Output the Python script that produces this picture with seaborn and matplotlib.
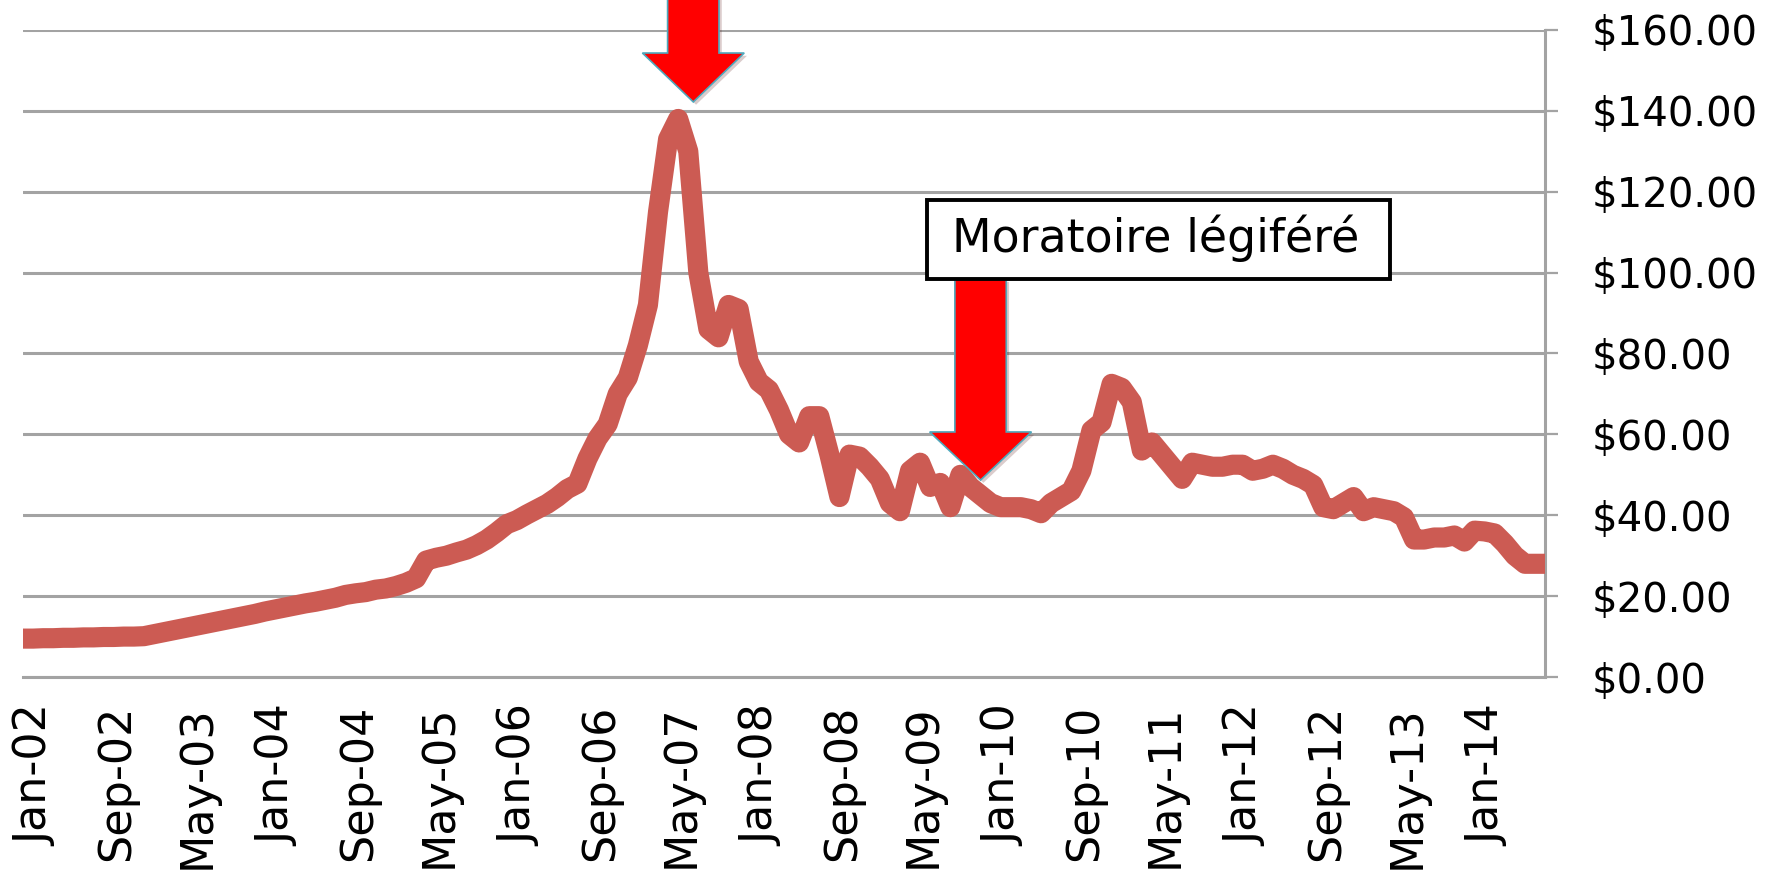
import matplotlib
matplotlib.use("Agg")
import matplotlib.pyplot as plt
import matplotlib.patheffects as pe
import matplotlib.transforms as mtransforms
from matplotlib.patches import Polygon, Rectangle
import seaborn as sns
import pandas as pd

# ---- data -------------------------------------------------------------
prices = [
    9.5, 9.5, 9.6, 9.6, 9.7, 9.7, 9.8, 9.8, 9.9, 9.9, 10.0, 10.0,          # 2002
    10.1, 10.6, 11.1, 11.6, 12.1, 12.6, 13.1, 13.6, 14.1, 14.6, 15.1, 15.6, # 2003
    16.2, 16.7, 17.2, 17.7, 18.2, 18.6, 19.1, 19.6, 20.3, 20.7, 21.0, 21.6, # 2004
    21.9, 22.5, 23.3, 24.4, 28.8, 29.5, 30.0, 30.8, 31.5, 32.6, 34.0, 35.8, # 2005
    37.8, 38.8, 40.2, 41.5, 42.8, 44.5, 46.5, 47.8, 54.0, 59.0, 62.5, 70.0, # 2006
    74.0, 82.0, 92.0, 115.0, 133.0, 138.0, 130.0, 100.0, 86.0, 84.0, 92.0, 91.0, # 2007
    78.0, 73.0, 71.0, 66.0, 60.0, 58.0, 64.5, 64.5, 55.0, 44.5, 55.0, 54.5, # 2008
    52.0, 49.0, 43.0, 41.0, 51.0, 53.0, 47.0, 48.0, 42.0, 50.0, 47.0, 45.0, # 2009
    43.0, 42.0, 42.0, 42.0, 41.5, 40.5, 43.0, 44.5, 46.0, 51.0, 61.0, 63.0, # 2010
    72.5, 71.5, 68.0, 56.0, 58.0, 55.0, 52.0, 49.0, 53.0, 52.5, 52.0, 52.0, # 2011
    52.5, 52.5, 51.0, 51.5, 52.5, 51.5, 50.0, 49.0, 47.5, 42.0, 41.5, 43.0, # 2012
    44.5, 41.0, 42.0, 41.5, 41.0, 39.5, 34.0, 34.0, 34.5, 34.5, 35.0, 33.5, # 2013
    36.2, 36.0, 35.5, 33.0, 30.0, 28.0, 28.0, 28.0,                         # 2014
]
months = list(range(len(prices)))
tick_positions = [0, 8, 16, 24, 32, 40, 48, 56, 64, 72, 80, 88, 96, 104, 112, 120, 128, 136, 144]
tick_labels = ["Jan-02", "Sep-02", "May-03", "Jan-04", "Sep-04", "May-05", "Jan-06",
               "Sep-06", "May-07", "Jan-08", "Sep-08", "May-09", "Jan-10", "Sep-10",
               "May-11", "Jan-12", "Sep-12", "May-13", "Jan-14"]
y_ticks = [0, 20, 40, 60, 80, 100, 120, 140, 160]
y_labels = ["$0.00", "$20.00", "$40.00", "$60.00", "$80.00", "$100.00",
            "$120.00", "$140.00", "$160.00"]
annotation_text = "Moratoire légiféré"

df = pd.DataFrame({"month": months, "price": prices})

# ---- style ------------------------------------------------------------
sns.set_style("white")
plt.rcParams["font.family"] = ["DejaVu Sans"]

LINE = "#cc5b53"
GRID = "#a3a3a3"

fig = plt.figure(figsize=(17.67, 8.71), dpi=100)
ax = fig.add_axes([0.013, 0.2227, 0.8614, 0.7429])

sns.lineplot(data=df, x="month", y="price", ax=ax, color=LINE,
             linewidth=14.5, zorder=3)
for ln in ax.lines:
    ln.set_solid_joinstyle("round")
    ln.set_solid_capstyle("butt")

ax.set_xlim(0, len(prices) - 1)
ax.set_ylim(0, 160)
ax.set_xlabel("")
ax.set_ylabel("")

# grid
ax.grid(axis="y", color=GRID, linewidth=2.2, zorder=1)
ax.grid(axis="x", visible=False)

# spines
for s in ["left", "top"]:
    ax.spines[s].set_visible(False)
for s in ["right", "bottom"]:
    ax.spines[s].set_visible(True)
    ax.spines[s].set_color(GRID)
    ax.spines[s].set_linewidth(2.2)

# y axis on right
ax.yaxis.tick_right()
ax.set_yticks(y_ticks)
ax.set_yticklabels(y_labels)
ax.tick_params(axis="y", which="both", direction="out", length=9.5, width=1.6,
               color=GRID, pad=24, labelsize=29, labelcolor="black",
               left=False, right=True)

# x axis
ax.set_xticks(tick_positions)
ax.set_xticklabels(tick_labels, rotation=90)
ax.tick_params(axis="x", direction="out", length=12, width=1.6, color=GRID,
               pad=8, labelsize=32, labelcolor="black")
shift = mtransforms.ScaledTranslation(0.13, 0, fig.dpi_scale_trans)
for lab in ax.get_xticklabels():
    lab.set_transform(lab.get_transform() + shift)


# ---- arrows (annotation shapes in data coordinates) -------------------
def down_arrow(xc, tip, head_top, shaft_top, head_hw, shaft_hw):
    pts = [
        (xc - shaft_hw, shaft_top),
        (xc + shaft_hw, shaft_top),
        (xc + shaft_hw, head_top),
        (xc + head_hw, head_top),
        (xc, tip),
        (xc - head_hw, head_top),
        (xc - shaft_hw, head_top),
    ]
    poly = Polygon(pts, closed=True, facecolor="#ff0000", edgecolor="#4fa9bd",
                   linewidth=1.2, clip_on=False, zorder=6,
                   transform=ax.transData)
    poly.set_path_effects([pe.SimplePatchShadow(offset=(2, -2), alpha=0.2),
                           pe.Normal()])
    ax.add_patch(poly)


down_arrow(66.5, 142.2, 154.3, 180, 5.05, 2.55)
down_arrow(95.0, 48.7, 60.6, 98.4, 5.05, 2.55)

# ---- text box ----------------------------------------------------------
box = Rectangle((89.7, 98.4), 135.6 - 89.7, 118.0 - 98.4, facecolor="white",
                edgecolor="black", linewidth=2.8, zorder=7, clip_on=False)
ax.add_patch(box)
ax.text(112.4, 108.6, annotation_text, ha="center", va="center",
        fontsize=33, color="black", zorder=8)

fig.savefig("out.png", dpi=100)
